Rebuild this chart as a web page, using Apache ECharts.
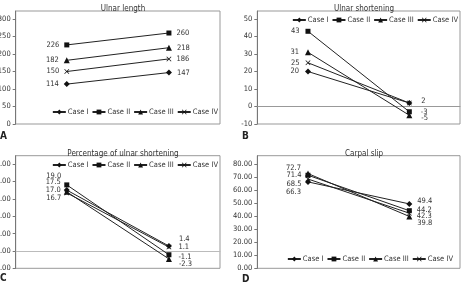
<!DOCTYPE html>
<html><head><meta charset="utf-8">
<script src="https://cdn.jsdelivr.net/npm/echarts@6/dist/echarts.min.js"></script>
<style>html,body{margin:0;padding:0;background:#fff}#c{width:465px;height:287px}</style>
</head><body><div id="c"></div>
<script>
// ---- data ----
var categories = ['Pre', 'Post'];
var seriesNames = ['Case I', 'Case II', 'Case III', 'Case IV'];
var panelTitles = ['Ulnar length', 'Ulnar shortening', 'Percentage of ulnar shortening', 'Carpal slip'];
var panelLetters = ['A', 'B', 'C', 'D'];

var ulnarLength = {
  'Case I': [114, 147],
  'Case II': [226, 260],
  'Case III': [182, 218],
  'Case IV': [150, 186]
};
var ulnarShortening = {
  'Case I': [20, 2],
  'Case II': [43, -3],
  'Case III': [31, -5],
  'Case IV': [25, 2]
};
var pctShortening = {
  'Case I': [17.5, 1.4],
  'Case II': [19.0, -1.1],
  'Case III': [17.0, -2.3],
  'Case IV': [16.7, 1.1]
};
var carpalSlip = {
  'Case I': [66.3, 49.4],
  'Case II': [71.4, 44.2],
  'Case III': [72.7, 39.8],
  'Case IV': [68.5, 42.3]
};
var yTickA = [0, 50, 100, 150, 200, 250, 300];
var yTickB = [-10, 0, 10, 20, 30, 40, 50];
var yTickC = [-5, 0, 5, 10, 15, 20, 25];
var yTickD = [0, 10, 20, 30, 40, 50, 60, 70, 80];
var labelTextA = ulnarLength;
var labelTextB = {'Case I': ['20', '2'], 'Case II': ['43', '-3'], 'Case III': ['31', '-5'], 'Case IV': ['25', '']};
var labelTextC = {'Case I': ['17.5', '1.4'], 'Case II': ['19.0', '-1.1'], 'Case III': ['17.0', '-2.3'], 'Case IV': ['16.7', '1.1']};
var labelTextD = {'Case I': ['66.3', '49.4'], 'Case II': ['71.4', '44.2'], 'Case III': ['72.7', '39.8'], 'Case IV': ['68.5', '42.3']};

// ---- styles / layout (not data) ----
var FONT = '"Liberation Sans Narrow","DejaVu Sans Condensed",sans-serif';
var symbols = ['diamond', 'rect', 'triangle', 'path://M0,1L1,0L5,4L9,0L10,1L6,5L10,9L9,10L5,6L1,10L0,9L4,5Z'];
var symbolSizes = [6, 5, 6, 5];
var offA = {'Case I': [0, 0], 'Case II': [0, 0], 'Case III': [0, 0], 'Case IV': [0, 0]};
var offB = {'Case I': [0, -2], 'Case II': [0, 0], 'Case III': [0, 3], 'Case IV': [0, 0]};
var offC = {'Case I': [-8, -7], 'Case II': [-9, 2], 'Case III': [-2, 5], 'Case IV': [5, 0]};
var offD = {'Case I': [10, -3], 'Case II': [0, -1], 'Case III': [-6, 7], 'Case IV': [5, 3]};
var distA = [5, 5], distB = [6, 9], distC = [3, 7], distD = [4, 5];

var grids = [
  {left: 15.7, top: 11, right: 245, bottom: 163},
  {left: 257.3, top: 11, right: 5, bottom: 163},
  {left: 15.7, top: 155.7, right: 245, bottom: 18.7},
  {left: 257.3, top: 155.7, right: 5, bottom: 18.7}
];
var yCfg = [
  {ticks: yTickA, max: 322.9, dec: 0},
  {ticks: yTickB, max: 54.6, dec: 0},
  {ticks: yTickC, max: 27.4, dec: 2},
  {ticks: yTickD, max: 86.4, dec: 2}
];
var panels = [
  {data: ulnarLength, text: labelTextA, off: offA, dist: distA},
  {data: ulnarShortening, text: labelTextB, off: offB, dist: distB},
  {data: pctShortening, text: labelTextC, off: offC, dist: distC},
  {data: carpalSlip, text: labelTextD, off: offD, dist: distD}
];
var legendPos = [
  {right: 247, top: 108},
  {right: 7, top: 16},
  {right: 247, top: 161},
  {right: 12, top: 255}
];
var titlePos = [118, 359, 118, 359];
var titleTop = [0, 0, 144.5, 144.5];
var letterPos = [[0, 131], [242, 131], [0, 273], [242, 274]];

var option = {
  animation: false,
  backgroundColor: '#fff',
  textStyle: {fontFamily: FONT},
  title: panelTitles.map(function (t, i) {
    return {text: t, left: titlePos[i], top: titleTop[i], textAlign: 'center',
      textStyle: {fontSize: 8, fontWeight: 'normal', color: '#333', fontFamily: FONT}};
  }),
  grid: grids.map(function (g) {
    return Object.assign({show: true, borderColor: '#999', borderWidth: 1, backgroundColor: 'transparent',
      containLabel: false, outerBoundsMode: 'none'}, g);
  }),
  legend: legendPos.map(function (p, i) {
    return Object.assign({
      data: seriesNames.map(function (n) { return {name: n}; }),
      orient: 'horizontal', itemWidth: 13, itemHeight: 6, itemGap: 3,
      padding: 0, selectedMode: false,
      textStyle: {fontSize: 7.5, color: '#333', fontFamily: FONT, padding: [0, 0, 0, -3]}
    }, p);
  }),
  xAxis: grids.map(function (g, i) {
    return {type: 'category', gridIndex: i, data: categories, boundaryGap: true,
      axisLabel: {show: false}, axisTick: {show: false},
      axisLine: {show: (i === 1 || i === 2), onZero: true, lineStyle: {color: i === 2 ? '#bbb' : '#999', width: i === 2 ? 1.2 : 1}},
      splitLine: {show: false}};
  }),
  yAxis: yCfg.map(function (c, i) {
    var step = c.ticks[1] - c.ticks[0];
    return {type: 'value', gridIndex: i, min: c.ticks[0], max: c.max, interval: step,
      axisLine: {show: true, onZero: false, lineStyle: {color: '#777'}},
      axisTick: {show: true, length: 3, lineStyle: {color: '#777'}},
      splitLine: {show: false},
      axisLabel: {fontSize: 7.5, color: '#333', margin: 5, fontFamily: FONT, showMaxLabel: false,
        formatter: function (v) {
          var k = (v - c.ticks[0]) / step;
          if (Math.abs(k - Math.round(k)) > 1e-6 || v > c.ticks[c.ticks.length - 1] + 1e-9) return '';
          return c.dec ? v.toFixed(c.dec) : String(v);
        }}};
  }),
  graphic: panelLetters.map(function (l, i) {
    return {type: 'text', left: letterPos[i][0], top: letterPos[i][1],
      style: {text: l, font: 'bold 10px ' + FONT, fill: '#222'}};
  }),
  series: []
};

panels.forEach(function (p, pi) {
  seriesNames.forEach(function (name, si) {
    var vals = p.data[name];
    option.series.push({
      type: 'line', name: name, xAxisIndex: pi, yAxisIndex: pi,
      symbol: symbols[si], symbolSize: symbolSizes[si],
      lineStyle: {color: '#222', width: 1},
      itemStyle: {color: '#111'},
      z: 3,
      data: vals.map(function (v, k) {
        return {value: v, label: {show: true, position: k === 0 ? 'left' : 'right',
          distance: p.dist[k], offset: [0, p.off[name][k]],
          formatter: String(p.text[name][k]), fontSize: 7.5, color: '#333', fontFamily: FONT}};
      })
    });
  });
});

var chart = echarts.init(document.getElementById('c'), null, {renderer: 'canvas'});
chart.setOption(option);
</script>
</body></html>
